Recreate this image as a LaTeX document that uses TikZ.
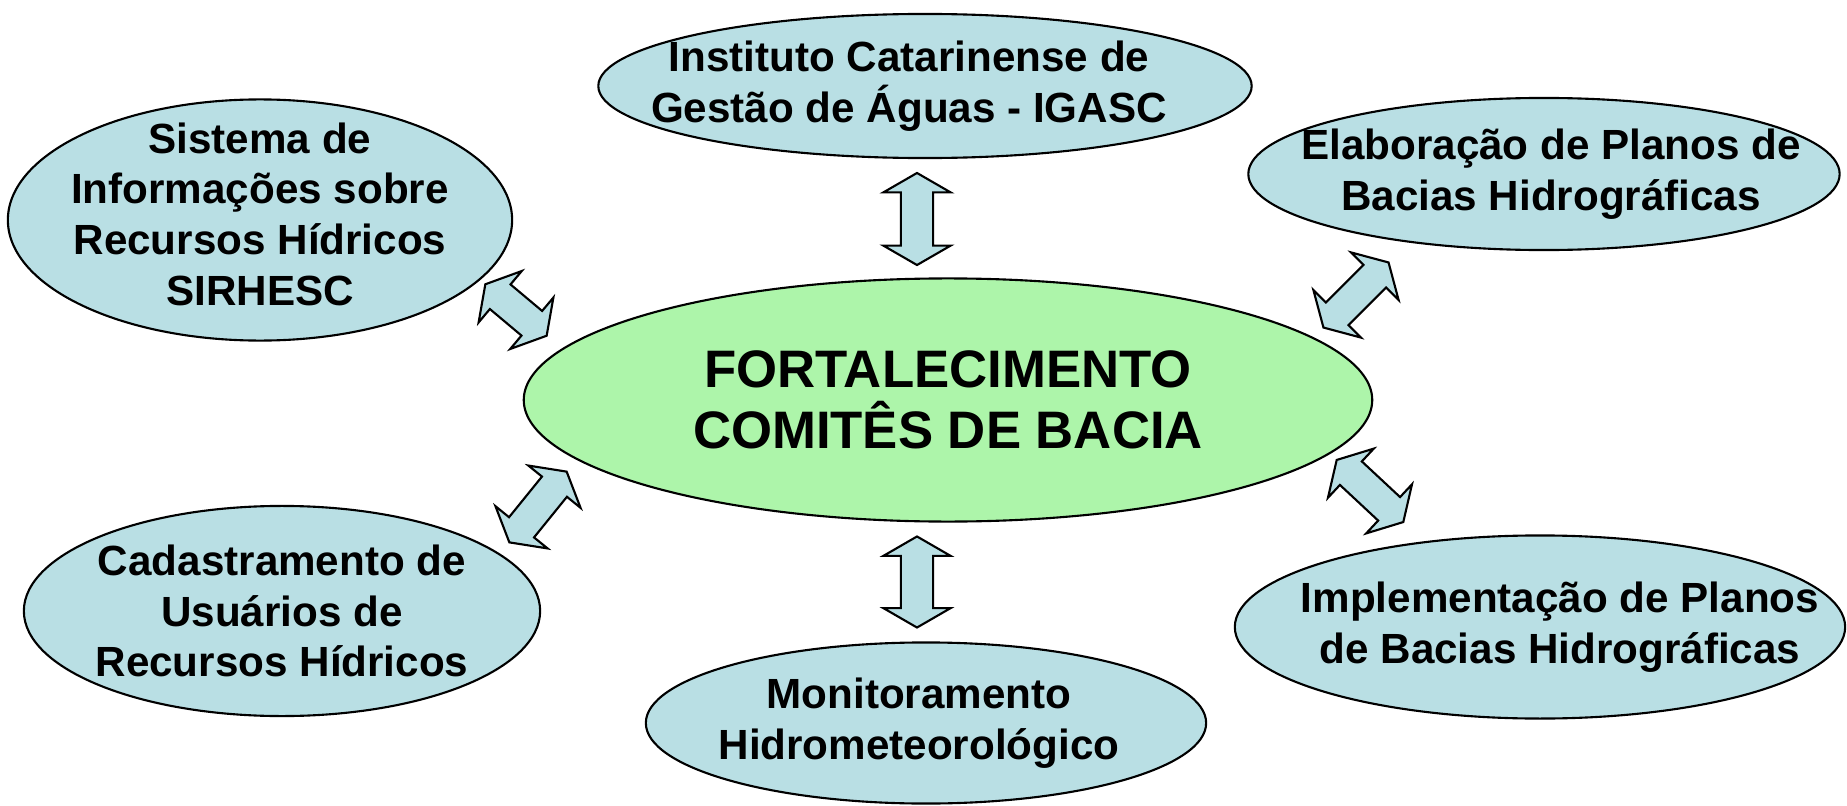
\documentclass[tikz,border=0pt]{standalone}
\usepackage{fontspec}
\setmainfont{Liberation Sans}
\usetikzlibrary{shapes.geometric,shapes.arrows}
\definecolor{bubblefill}{RGB}{185,223,228}
\definecolor{corefill}{RGB}{173,245,170}
\tikzset{
    bubble/.style={ellipse, draw, semithick, fill=bubblefill, inner sep=0pt},
    bubbletext/.style={align=center, font=\bfseries\fontsize{12}{14.4}\selectfont},
    coretext/.style={align=center, font=\bfseries\fontsize{15}{17.4}\selectfont},
    twoway/.style={double arrow, draw, semithick, fill=bubblefill,
        inner xsep=0pt, inner ysep=0.15cm, minimum height=#1,
        double arrow head extend=0.175cm, double arrow tip angle=120}
}
\begin{document}
\begin{tikzpicture}[x=0.01cm, y=-0.01cm]
    \useasboundingbox (0,0) rectangle (1847,806);
    % centro
    \node[bubble, fill=corefill, minimum width=8.48cm, minimum height=2.43cm] (core) at (948,400) {};
    \node[coretext] (core-t) at (core) {FORTALECIMENTO\\COMIT\^ES DE BACIA};
    % bolhas em volta
    \node[bubble, minimum width=6.53cm, minimum height=1.44cm] (igasc) at (925,86) {};
    \node[bubbletext] (igasc-t) at ([xshift=-0.16cm]igasc) {Instituto Catarinense de\\Gest\~ao de \'Aguas - IGASC};
    \node[bubble, minimum width=5.04cm, minimum height=2.41cm] (sirhesc) at (260,220) {};
    \node[bubbletext] (sirhesc-t) at ([yshift=0.06cm]sirhesc) {Sistema de\\Informa\c{c}\~oes sobre\\Recursos H\'idricos\\SIRHESC};
    \node[bubble, minimum width=5.91cm, minimum height=1.52cm] (elab) at (1544,174) {};
    \node[bubbletext] (elab-t) at ([xshift=0.07cm]elab) {Elabora\c{c}\~ao de Planos de\\Bacias Hidrogr\'aficas};
    \node[bubble, minimum width=5.16cm, minimum height=2.10cm] (cadastro) at (282,611) {};
    \node[bubbletext] (cadastro-t) at (cadastro) {Cadastramento de\\Usu\'arios de\\Recursos H\'idricos};
    \node[bubble, minimum width=5.60cm, minimum height=1.61cm] (monit) at (926,723) {};
    \node[bubbletext] (monit-t) at ([xshift=-0.07cm]monit) {Monitoramento\\Hidrometeorol\'ogico};
    \node[bubble, minimum width=6.10cm, minimum height=1.83cm] (implem) at (1540,627) {};
    \node[bubbletext] (implem-t) at ([xshift=0.2cm]implem) {Implementa\c{c}\~ao de Planos\\de Bacias Hidrogr\'aficas};
    % setas duplas
    \node[twoway=0.92cm, rotate=90] (a-igasc) at (917,219) {};
    \node[twoway=0.91cm, rotate=90] (a-monit) at (917,582) {};
    \node[twoway=0.80cm, rotate=-40] (a-sirhesc) at (516,310) {};
    \node[twoway=0.92cm, rotate=45] (a-elab) at (1356,295) {};
    \node[twoway=0.91cm, rotate=51] (a-cadastro) at (538,507) {};
    \node[twoway=0.91cm, rotate=-43] (a-implem) at (1370,491) {};
\end{tikzpicture}
\end{document}
